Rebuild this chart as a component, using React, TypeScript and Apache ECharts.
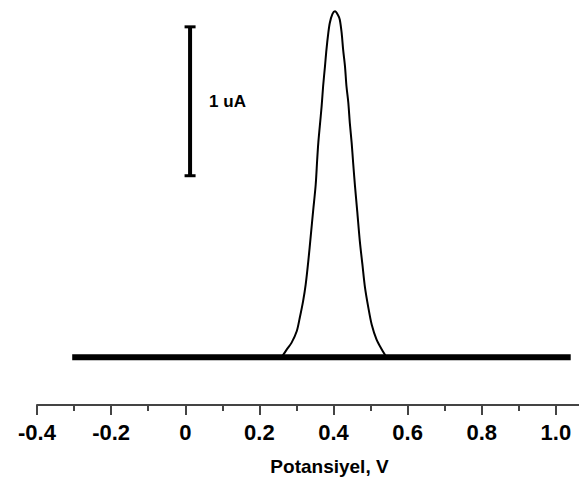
import React, { useEffect, useRef } from "react";
import * as echarts from "echarts";

// Axis tick labels (V)
const tickValues = [-0.4, -0.2, 0, 0.2, 0.4, 0.6, 0.8, 1.0];
const tickLabels = ["-0.4", "-0.2", "0", "0.2", "0.4", "0.6", "0.8", "1.0"];

// Flat baseline of the voltammogram (V, uA)
const baselineX = [-0.305, 1.04];
const baselineY = [0, 0];

// Peak (V, uA relative to baseline)
const peakX = [
  0.26, 0.274, 0.287, 0.301, 0.309, 0.318, 0.325, 0.332, 0.339, 0.345, 0.352,
  0.356, 0.359, 0.363, 0.368, 0.372, 0.377, 0.381, 0.386, 0.39, 0.397, 0.404,
  0.412, 0.417, 0.422, 0.426, 0.431, 0.435, 0.44, 0.444, 0.449, 0.453, 0.458,
  0.464, 0.471, 0.478, 0.485, 0.494, 0.503, 0.516, 0.53, 0.543,
];
const peakY = [
  0, 0.054, 0.099, 0.177, 0.266, 0.378, 0.49, 0.646, 0.826, 0.982, 1.161,
  1.329, 1.441, 1.552, 1.687, 1.821, 1.955, 2.067, 2.179, 2.246, 2.305, 2.324,
  2.3, 2.268, 2.179, 2.067, 1.955, 1.821, 1.71, 1.575, 1.441, 1.307, 1.15,
  0.982, 0.781, 0.624, 0.468, 0.334, 0.221, 0.121, 0.054, 0,
];

// Scale bar: 1 uA
const scaleBarX = [0.013, 0.013];
const scaleBarY = [1.22, 2.22];
const scaleBarLabel = "1 uA";

const FONT = "'Liberation Sans', Arial, sans-serif";

export default function App() {
  const ref = useRef<HTMLDivElement>(null);

  useEffect(() => {
    if (!ref.current) return;
    const chart = echarts.init(ref.current, null, { renderer: "svg" });
    const zip = (xs: number[], ys: number[]) => xs.map((x, i) => [x, ys[i]]);
    const midY = (scaleBarY[0] + scaleBarY[1]) / 2;

    chart.setOption({
      animation: false,
      backgroundColor: "#ffffff",
      grid: {
        left: 37,
        width: 593,
        top: 6,
        bottom: 80,
        containLabel: false,
        outerBoundsMode: "none",
      },
      xAxis: {
        type: "value",
        min: -0.4,
        max: 1.2,
        interval: 0.2,
        name: "Potansiyel, V",
        nameLocation: "middle",
        nameGap: 52,
        nameTextStyle: {
          fontFamily: FONT,
          fontWeight: "bold",
          fontSize: 19,
          color: "#000",
          padding: [0, 8, 0, 0],
        },
        axisLine: { show: true, onZero: false, lineStyle: { color: "#444", width: 2 } },
        axisTick: {
          show: true,
          inside: false,
          length: 10,
          lineStyle: { color: "#444", width: 2 },
          customValues: tickValues,
        },
        minorTick: {
          show: true,
          splitNumber: 2,
          length: 6,
          lineStyle: { color: "#444", width: 2 },
        },
        axisLabel: {
          customValues: tickValues,
          margin: 16,
          fontFamily: FONT,
          fontWeight: "bold",
          fontSize: 22,
          color: "#000",
          formatter: (v: number) => {
            const i = tickValues.findIndex((t) => Math.abs(t - v) < 1e-6);
            return i >= 0 ? tickLabels[i] : "";
          },
        },
        splitLine: { show: false },
      },
      yAxis: {
        type: "value",
        min: -0.32,
        max: 2.36,
        show: false,
        splitLine: { show: false },
      },
      series: [
        {
          type: "line",
          data: zip(baselineX, baselineY),
          showSymbol: false,
          lineStyle: { color: "#000", width: 6, cap: "butt" },
          z: 3,
        },
        {
          type: "line",
          data: zip(peakX, peakY),
          smooth: 0.3,
          showSymbol: false,
          lineStyle: { color: "#000", width: 2 },
          z: 2,
        },
        {
          type: "line",
          data: zip(scaleBarX, scaleBarY),
          symbol: "rect",
          symbolSize: [11, 3],
          showSymbol: true,
          itemStyle: { color: "#000" },
          lineStyle: { color: "#000", width: 4 },
        },
        {
          type: "scatter",
          data: [[scaleBarX[0], midY]],
          symbolSize: 0,
          itemStyle: { color: "#000", opacity: 1 },
          label: {
            show: true,
            position: "right",
            distance: 19,
            formatter: scaleBarLabel,
            fontFamily: FONT,
            fontWeight: "bold",
            fontSize: 17,
            color: "#000",
            opacity: 1,
            textBorderWidth: 0,
          },
        },
      ],
    });
    return () => chart.dispose();
  }, []);

  return (
    <div
      ref={ref}
      style={{ position: "fixed", left: 0, top: 0, width: 579, height: 485, background: "#fff" }}
    />
  );
}
